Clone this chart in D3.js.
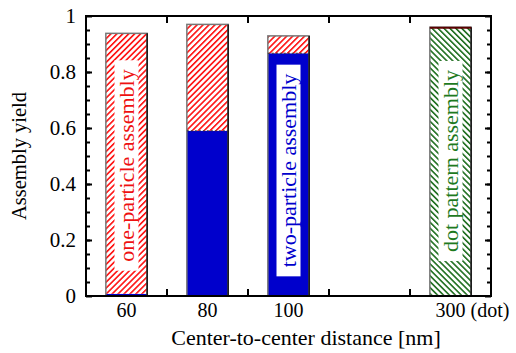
<!DOCTYPE html>
<html>
<head>
<meta charset="utf-8">
<script src="https://cdn.jsdelivr.net/npm/d3@7"></script>
<style>
  body { margin: 0; background: #fff; }
  text { font-family: "Liberation Serif", "DejaVu Serif", serif; }
</style>
</head>
<body>
<div id="chart"></div>
<script>
// datos
const categories = ["60", "80", "100", "", "300"]
const twoParticle = [0.008, 0.59, 0.867, 0, 0]
const oneParticle = [0.930, 0.38, 0.062, 0, 0.004]
const dotPattern = [0, 0, 0, 0, 0.956]
const yTicks = [0, 0.2, 0.4, 0.6, 0.8, 1]
const barLabels = [
  { cat: "60", text: "one-particle assembly", color: "#ee1111", cy: 165.5 },
  { cat: "100", text: "two-particle assembly", color: "#0000cc", cy: 170.5 },
  { cat: "300", text: "dot pattern assembly", color: "#1e7a1e", cy: 161 }
]

const width = 516
const height = 353
const margin = { top: 16, right: 25, bottom: 57, left: 86 }
const innerW = width - margin.left - margin.right
const innerH = height - margin.top - margin.bottom

const svg = d3.select("div#chart").append("svg").attr("width", width).attr("height", height)

// patrones de rayado
const defs = svg.append("defs")
function hatch(id, color, angle, sw) {
  const s = 4.2
  const p = defs.append("pattern")
    .attr("id", id)
    .attr("patternUnits", "userSpaceOnUse")
    .attr("width", s).attr("height", s)
    .attr("patternTransform", `rotate(${angle})`)
  p.append("rect").attr("width", s).attr("height", s).attr("fill", "#fff")
  p.append("line").attr("x1", 0.8).attr("y1", 0).attr("x2", 0.8).attr("y2", s)
    .attr("stroke", color).attr("stroke-width", sw)
}
hatch("redHatch", "#ff0000", 45, 1.5)
hatch("greenHatch", "#0e640e", -45, 1.5)

const g = svg.append("g").attr("transform", `translate(${margin.left},${margin.top})`)

// escalas
const x = d3.scaleBand().domain(categories).range([0, innerW]).padding(0)
const y = d3.scaleLinear().domain([0, 1]).range([innerH, 0])
const barW = x.bandwidth() * 0.51
const bx = d => x(d) + (x.bandwidth() - barW) / 2

// barras apiladas
const rows = categories.map((c, i) => ({ cat: c, two: twoParticle[i], one: oneParticle[i], dot: dotPattern[i] }))
const stack = d3.stack().keys(["two", "one", "dot"])(rows)
const fills = { two: "#0000cc", one: "url(#redHatch)", dot: "url(#greenHatch)" }

stack.forEach(layer => {
  g.selectAll(null).data(layer.filter(d => d[1] - d[0] > 0)).enter()
    .append("rect")
    .attr("x", d => bx(d.data.cat))
    .attr("y", d => y(d[1]))
    .attr("width", barW)
    .attr("height", d => y(d[0]) - y(d[1]))
    .attr("fill", fills[layer.key])
})

// contorno de cada barra
rows.forEach(r => {
  const total = r.two + r.one + r.dot
  if (total === 0) {
    g.append("line")
      .attr("x1", bx(r.cat)).attr("x2", bx(r.cat) + barW)
      .attr("y1", y(0) - 0.5).attr("y2", y(0) - 0.5)
      .attr("stroke", "#ccc").attr("stroke-width", 1)
    return
  }
  g.append("rect")
    .attr("x", bx(r.cat)).attr("y", y(total))
    .attr("width", barW).attr("height", y(0) - y(total))
    .attr("fill", "none").attr("stroke", "#777").attr("stroke-width", 1.5)
  g.append("line")
    .attr("x1", bx(r.cat) + barW).attr("x2", bx(r.cat) + barW)
    .attr("y1", y(total)).attr("y2", y(0))
    .attr("stroke", "#111").attr("stroke-width", 1.5)
})
// limite entre azul y rojo
rows.filter(r => r.two > 0.05 && r.one > 0).forEach(r => {
  g.append("line")
    .attr("x1", bx(r.cat)).attr("x2", bx(r.cat) + barW)
    .attr("y1", y(r.two)).attr("y2", y(r.two))
    .attr("stroke", "#333").attr("stroke-width", 1).attr("stroke-dasharray", "2,2")
})
// borde superior rojo oscuro en la barra de puntos
rows.filter(r => r.dot > 0).forEach(r => {
  g.append("line")
    .attr("x1", bx(r.cat)).attr("x2", bx(r.cat) + barW)
    .attr("y1", y(r.dot + r.one + r.two) + 0.5).attr("y2", y(r.dot + r.one + r.two) + 0.5)
    .attr("stroke", "#5a0000").attr("stroke-width", 2)
})

// etiquetas verticales dentro de las barras
barLabels.forEach(l => {
  const cx = x(l.cat) + x.bandwidth() / 2
  const cy = l.cy - margin.top
  const lg = g.append("g").attr("transform", `translate(${cx},${cy}) rotate(-90)`)
  const t = lg.append("text")
    .attr("text-anchor", "middle").attr("dy", "0.35em")
    .attr("font-size", 22).attr("fill", l.color).text(l.text)
  const bb = t.node().getBBox()
  lg.insert("rect", "text")
    .attr("x", bb.x - 9).attr("y", -12)
    .attr("width", bb.width + 18).attr("height", 24)
    .attr("fill", "#fff")
})

// ejes
const yAxisL = d3.axisLeft(y).tickValues(yTicks).tickSize(-6).tickPadding(10).tickFormat(d3.format("~g"))
const yMinorL = d3.axisLeft(y).tickValues(d3.range(0.05, 1, 0.05).map(v => +v.toFixed(2))).tickSize(-4).tickFormat("")
const axisStyle = sel => {
  sel.select(".domain").remove()
  sel.selectAll("line").attr("stroke", "#000").attr("stroke-width", 2)
  sel.selectAll("text").attr("font-size", 21).attr("fill", "#000")
    .attr("font-family", "Liberation Serif, serif")
}
g.append("g").call(yAxisL).call(axisStyle)
g.append("g").call(yMinorL).call(axisStyle)
g.append("g").attr("transform", `translate(${innerW},0)`).call(d3.axisRight(y).tickValues(yTicks).tickSize(-6).tickFormat("")).call(axisStyle)
g.append("g").attr("transform", `translate(${innerW},0)`).call(d3.axisRight(y).tickValues(d3.range(0.05, 1, 0.05).map(v => +v.toFixed(2))).tickSize(-4).tickFormat("")).call(axisStyle)

// eje x: etiquetas al centro, marcas en los limites de las bandas
const bounds = categories.slice(1).map(c => x(c))
g.selectAll(null).data(bounds).enter().append("line")
  .attr("x1", d => d).attr("x2", d => d).attr("y1", innerH).attr("y2", innerH - 7)
  .attr("stroke", "#000").attr("stroke-width", 2)
g.selectAll(null).data(bounds).enter().append("line")
  .attr("x1", d => d).attr("x2", d => d).attr("y1", 0).attr("y2", 7)
  .attr("stroke", "#000").attr("stroke-width", 2)

categories.forEach(c => {
  if (!c) return
  const cx = x(c) + x.bandwidth() / 2
  const t = g.append("text").attr("y", innerH + 21).attr("font-size", 20).attr("fill", "#000")
  if (c === "300") {
    t.attr("x", cx).attr("text-anchor", "start").text(c + " (dot)")
    const tmp = g.append("text").attr("font-size", 20).text(c)
    const w = tmp.node().getComputedTextLength()
    tmp.remove()
    t.attr("x", cx - w / 2)
  } else {
    t.attr("x", cx).attr("text-anchor", "middle").text(c)
  }
})

// marco
g.append("rect").attr("width", innerW).attr("height", innerH)
  .attr("fill", "none").attr("stroke", "#000").attr("stroke-width", 2)

// titulos
svg.append("text").attr("x", 306).attr("y", 345)
  .attr("text-anchor", "middle").attr("font-size", 22).text("Center-to-center distance [nm]")
svg.append("text").attr("transform", `translate(26,${margin.top + innerH / 2}) rotate(-90)`)
  .attr("text-anchor", "middle").attr("font-size", 20.5).text("Assembly yield")
</script>
</body>
</html>
